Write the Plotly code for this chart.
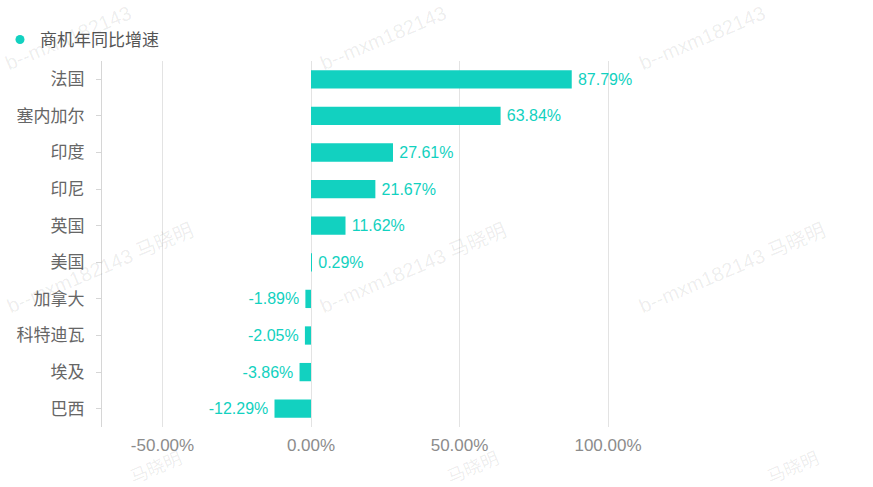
import plotly.graph_objects as go

# ---- data ----
countries = ["法国", "塞内加尔", "印度", "印尼", "英国", "美国", "加拿大", "科特迪瓦", "埃及", "巴西"]
growth_pct = [87.79, 63.84, 27.61, 21.67, 11.62, 0.29, -1.89, -2.05, -3.86, -12.29]
series_name = "商机年同比增速"
x_tick_vals = [-50, 0, 50, 100]
x_tick_text = ["-50.00%", "0.00%", "50.00%", "100.00%"]
watermark_text = "b--mxm182143 马晓明"
watermark_head = "b--mxm182143"
watermark_tail = "马晓明"

# ---- layout constants ----
W, H = 873, 487
ML, MR, MT, MB = 102, 30, 61, 60
PW = W - ML - MR
PH = H - MT - MB
ZERO_PX = 311
PX_PER_UNIT = 2.97
x_min = -(ZERO_PX - ML) / PX_PER_UNIT
x_max = (W - MR - ZERO_PX) / PX_PER_UNIT

TEAL = "#12d1c0"
FONT = "Liberation Sans, Noto Sans CJK SC, sans-serif"
GAP = "\u2009"

bar_labels = [(GAP + f"{v:.2f}%") if v >= 0 else (f"{v:.2f}%" + GAP) for v in growth_pct]

fig = go.Figure()
fig.add_trace(go.Bar(
    x=growth_pct, y=countries, orientation="h",
    marker=dict(color=TEAL, line=dict(width=0)),
    width=0.5,
    text=bar_labels, texttemplate="%{text}", textposition="outside",
    textfont=dict(color=TEAL, size=17.5, family=FONT),
    cliponaxis=False, showlegend=False, hoverinfo="skip",
))
fig.add_trace(go.Scatter(
    x=[None], y=[None], mode="markers", name=series_name,
    marker=dict(color=TEAL, size=9, symbol="circle"), showlegend=True,
))

# faint watermark tiles
def px_to_paper(px, py):
    return (px - ML) / PW, (H - MB - py) / PH

WM_COLOR = "rgba(0,0,0,0.08)"
annotations = []

def add_wm(text, cx, cy, size):
    ax_, ay_ = px_to_paper(cx, cy)
    annotations.append(dict(
        x=ax_, y=ay_, xref="paper", yref="paper", text=text,
        xanchor="center", yanchor="middle",
        showarrow=False, textangle=-23,
        font=dict(size=size, color=WM_COLOR, family=FONT),
    ))

for cx in [68, 383, 702]:
    add_wm(watermark_head, cx, 38, 20)
for cx in [100, 413, 732]:
    add_wm(watermark_text, cx, 268, 20)
for cx in [156, 473, 793]:
    add_wm(watermark_tail, cx, 468, 18)

fig.update_layout(
    width=W, height=H,
    margin=dict(l=ML, r=MR, t=MT, b=MB, autoexpand=False),
    paper_bgcolor="white", plot_bgcolor="white",
    font=dict(family=FONT, size=17, color="#666"),
    bargap=0.5,
    legend=dict(
        xref="container", yref="container", x=0.0, y=1 - 40 / H,
        xanchor="left", yanchor="middle",
        font=dict(size=17, color="#555", family=FONT),
        bgcolor="rgba(0,0,0,0)",
    ),
    annotations=annotations,
    xaxis=dict(
        range=[x_min, x_max],
        tickvals=x_tick_vals, ticktext=x_tick_text,
        showgrid=True, gridcolor="#e3e3e3", gridwidth=1,
        zeroline=True, zerolinecolor="#e3e3e3", zerolinewidth=1,
        showline=False, ticks="",
        tickfont=dict(size=17, color="#8c8c8c", family=FONT),
        ticklabelstandoff=6,
        automargin=False,
        fixedrange=True,
    ),
    yaxis=dict(
        autorange="reversed",
        showgrid=False, zeroline=False,
        showline=True, linecolor="#d6d6d6", linewidth=1,
        ticks="outside", ticklen=5, tickcolor="#d6d6d6",
        tickfont=dict(size=17, color="#666", family=FONT),
        ticklabelstandoff=8,
        automargin=False,
        fixedrange=True,
    ),
)

fig.write_html(
    "out.html",
    config={"displayModeBar": False},
    post_script="document.body.style.margin='0px';",
)
